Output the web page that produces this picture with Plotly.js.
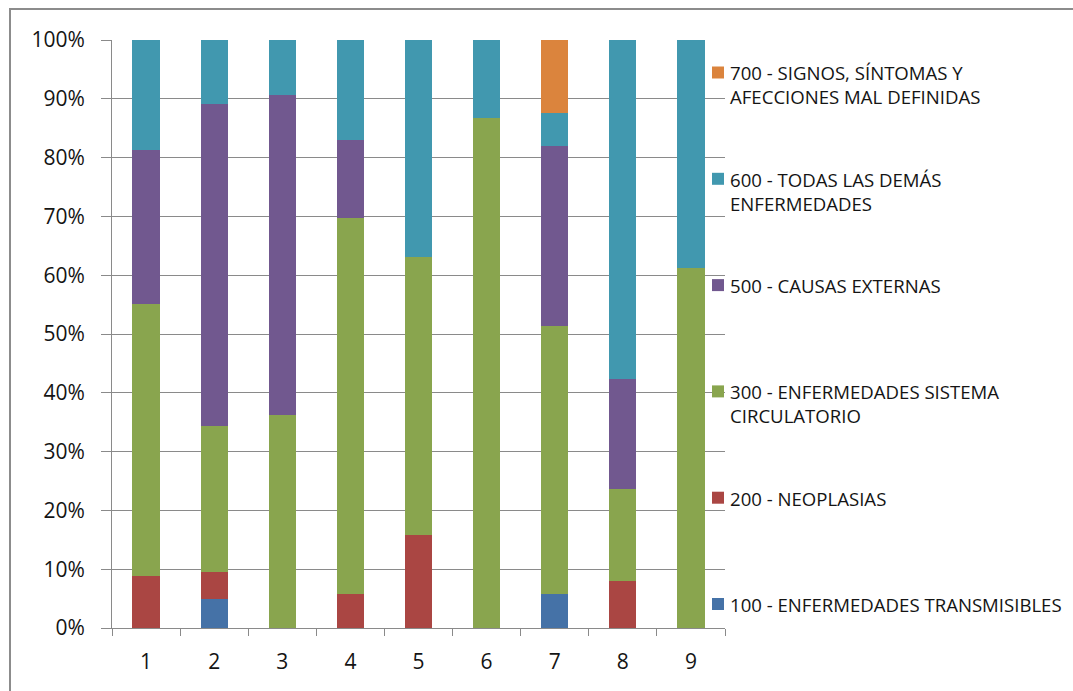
<!DOCTYPE html>
<html>
<head>
<meta charset="utf-8">
<script src="https://cdn.plot.ly/plotly-3.0.1.min.js"></script>
<style>
  html, body { margin: 0; padding: 0; background: #ffffff; }
  #chart { width: 1073px; height: 691px; }
</style>
</head>
<body>
<div id="chart"></div>
<script>
// Categories along the x axis
const categories = ['1', '2', '3', '4', '5', '6', '7', '8', '9'];

// Share of each cause group per category (percent of the column total)
const transmisibles = [0, 5.0, 0, 0, 0, 0, 5.8, 0, 0];
const neoplasias    = [8.8, 4.5, 0, 5.8, 15.9, 0, 0, 8.0, 0];
const circulatorio  = [46.3, 24.8, 36.3, 63.9, 47.2, 86.7, 45.5, 15.6, 61.3];
const externas      = [26.2, 54.8, 54.3, 13.3, 0, 0, 30.6, 18.7, 0];
const demas         = [18.7, 10.9, 9.4, 17.0, 36.9, 13.3, 5.7, 57.7, 38.7];
const signos        = [0, 0, 0, 0, 0, 0, 12.4, 0, 0];

// Series names as shown in the legend (line breaks where the legend wraps)
const seriesNames = [
  '100 - ENFERMEDADES TRANSMISIBLES',
  '200 - NEOPLASIAS',
  '300 - ENFERMEDADES SISTEMA<br>CIRCULATORIO',
  '500 - CAUSAS EXTERNAS',
  '600 - TODAS LAS DEMÁS<br>ENFERMEDADES',
  '700 - SIGNOS, SÍNTOMAS Y<br>AFECCIONES MAL DEFINIDAS'
];
const seriesValues = [transmisibles, neoplasias, circulatorio, externas, demas, signos];
const seriesColors = ['#4572A7', '#AA4643', '#89A54E', '#71588F', '#4198AF', '#DB843D'];

// Tick labels on the value axis
const yTickValues = [0, 10, 20, 30, 40, 50, 60, 70, 80, 90, 100];
const yTickLabels = ['0%', '10%', '20%', '30%', '40%', '50%', '60%', '70%', '80%', '90%', '100%'];

// Page geometry
const W = 1073, H = 691;
const M = { l: 112, r: 348, t: 40, b: 63 };
const plotW = W - M.l - M.r;
const plotH = H - M.t - M.b;
const px2x = (px) => (px - M.l) / plotW;
const px2y = (py) => 1 - (py - M.t) / plotH;

const gridGray = '#8a8a8a';
const textColor = '#141414';
const fontFamily = '"Open Sans", "Liberation Sans", sans-serif';

const traces = seriesValues.map((vals, i) => ({
  type: 'bar',
  name: seriesNames[i].replace('<br>', ' '),
  x: categories,
  y: vals,
  marker: { color: seriesColors[i], line: { width: 0 } },
  hoverinfo: 'x+y+name'
}));

// Legend drawn at the right, top group first, evenly spaced slots
const shapes = [];
const annotations = [];
const firstSlotCenter = 72.5;
const slotStep = 106.3;
for (let k = 0; k < seriesNames.length; k++) {
  const i = seriesNames.length - 1 - k;
  const cy = firstSlotCenter + k * slotStep;
  shapes.push({
    type: 'rect', xref: 'paper', yref: 'paper',
    x0: px2x(712), x1: px2x(724),
    y0: px2y(cy + 6), y1: px2y(cy - 6),
    fillcolor: seriesColors[i], line: { width: 0 }
  });
  annotations.push({
    xref: 'paper', yref: 'paper',
    x: px2x(728), y: px2y(cy - 14),
    xanchor: 'left', yanchor: 'top', align: 'left',
    showarrow: false,
    text: seriesNames[i],
    font: { family: fontFamily, size: 18.6, color: textColor }
  });
}

// Chart frame
shapes.push({
  type: 'rect', xref: 'paper', yref: 'paper',
  x0: px2x(10), x1: px2x(W + 40),
  y0: px2y(H + 40), y1: px2y(9),
  line: { color: '#8c8c8c', width: 2 },
  fillcolor: 'rgba(0,0,0,0)'
});

const layout = {
  width: W, height: H,
  margin: M,
  paper_bgcolor: '#ffffff',
  plot_bgcolor: '#ffffff',
  barmode: 'stack',
  bargap: 0.6,
  showlegend: false,
  font: { family: fontFamily, color: textColor },
  xaxis: {
    type: 'category',
    showline: true, linecolor: gridGray, linewidth: 1,
    ticks: 'outside', tickson: 'boundaries', ticklen: 7, tickcolor: gridGray,
    tickfont: { family: fontFamily, size: 21, color: textColor },
    ticklabelstandoff: 15,
    showgrid: false, zeroline: false,
    fixedrange: true
  },
  yaxis: {
    range: [0, 100],
    tickvals: yTickValues, ticktext: yTickLabels,
    showline: true, linecolor: gridGray, linewidth: 1,
    ticks: 'outside', ticklen: 10, tickcolor: gridGray,
    tickfont: { family: fontFamily, size: 21, color: textColor },
    ticklabelstandoff: 12,
    showgrid: true, gridcolor: gridGray, gridwidth: 1,
    zeroline: false,
    fixedrange: true
  },
  shapes: shapes,
  annotations: annotations
};

Plotly.newPlot('chart', traces, layout, { displayModeBar: false, staticPlot: true });
</script>
</body>
</html>
